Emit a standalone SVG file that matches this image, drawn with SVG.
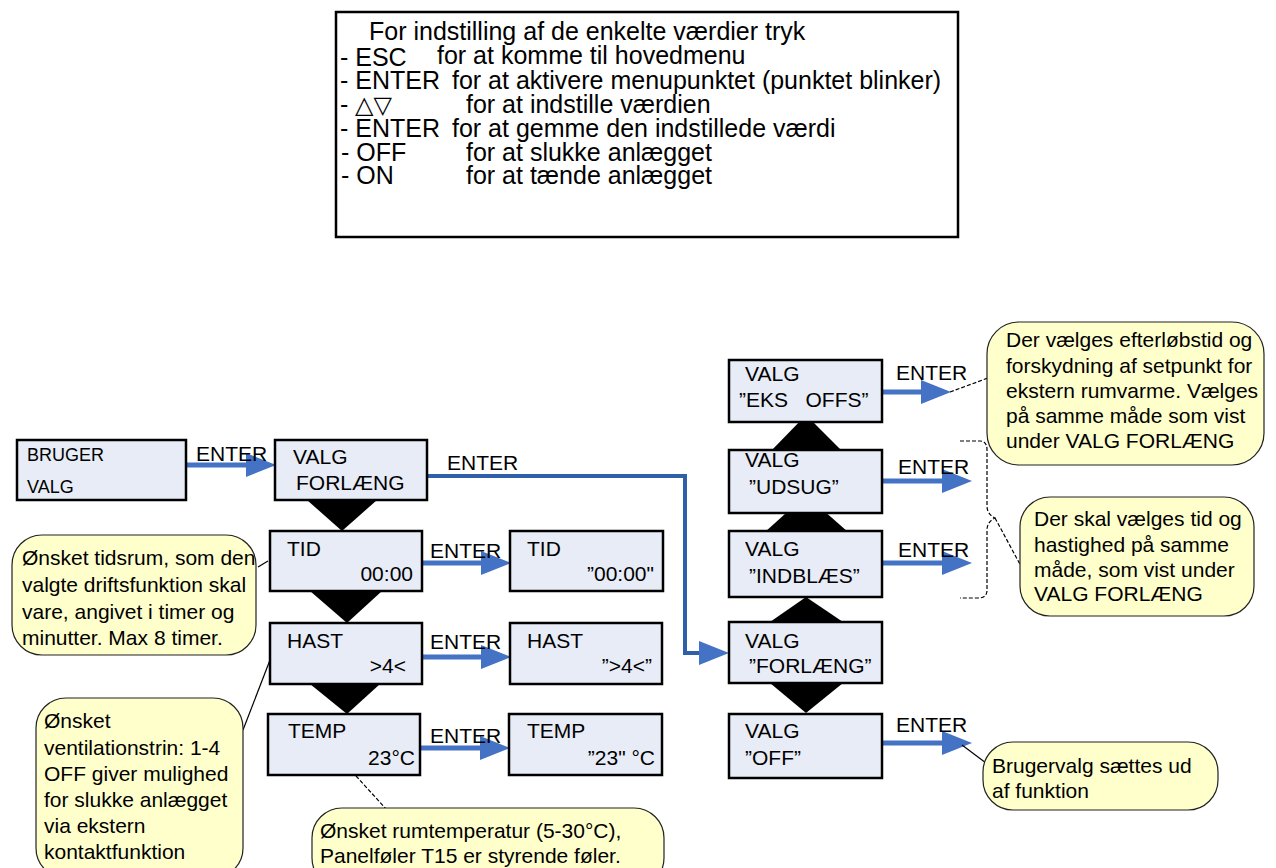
<svg xmlns="http://www.w3.org/2000/svg" width="1276" height="868" viewBox="0 0 1276 868">
<defs>
<style>
text{font-family:"Liberation Sans",Arial,sans-serif;fill:#000;}
.top{font-size:25px;}
.sym{font-family:"DejaVu Sans",sans-serif;font-size:24px;}
.t{font-size:21px;}
.s{font-size:18px;}
.node{fill:#E7ECF7;stroke:#000;stroke-width:2.5;}
.call{fill:#FFFFCC;stroke:#222;stroke-width:1.2;}
.arr{stroke:#4472C4;stroke-width:5;fill:none;marker-end:url(#ah);}
.lead{stroke:#000;stroke-width:1.2;fill:none;}
.dash{stroke:#000;stroke-width:1.2;fill:none;stroke-dasharray:4 2;}
.tri{fill:#000;}
</style>
<marker id="ah" markerUnits="userSpaceOnUse" markerWidth="32" markerHeight="26" refX="14" refY="12" orient="auto">
<path d="M0,0 L30,12 L0,24 Z" fill="#4472C4"/>
</marker>
</defs>
<rect width="1276" height="868" fill="#fff"/>

<g id="legend">
<rect x="336" y="12" width="622" height="225" fill="#fff" stroke="#000" stroke-width="2.5"/>
<text class="top" x="369" y="40">For indstilling af de enkelte værdier tryk</text>
<text class="top" x="340" y="66">- ESC</text><text class="top" x="437" y="64">for at komme til hovedmenu</text>
<text class="top" x="340" y="89">- ENTER</text><text class="top" x="452" y="89">for at aktivere menupunktet (punktet blinker)</text>
<text class="top" x="340" y="113">-</text><text class="sym" x="355" y="113">△▽</text><text class="top" x="466" y="113">for at indstille værdien</text>
<text class="top" x="340" y="137">- ENTER</text><text class="top" x="452" y="137">for at gemme den indstillede værdi</text>
<text class="top" x="341" y="161">- OFF</text><text class="top" x="466" y="161">for at slukke anlægget</text>
<text class="top" x="341" y="184">- ON</text><text class="top" x="466" y="184">for at tænde anlægget</text>
</g>

<g id="connectors">
<line class="arr" x1="186" y1="465" x2="260" y2="465"/>
<path d="M427,476 H685 V653 H713" stroke="#2E5FA8" stroke-width="4" fill="none" marker-end="url(#ah)"/>
<line class="arr" x1="422" y1="563" x2="495" y2="563"/>
<line class="arr" x1="422" y1="657" x2="495" y2="657"/>
<line class="arr" x1="420" y1="748" x2="494" y2="748"/>
<line class="arr" x1="882" y1="392" x2="935" y2="392"/>
<line class="arr" x1="882" y1="481" x2="956" y2="481"/>
<line class="arr" x1="882" y1="563" x2="956" y2="563"/>
<line class="arr" x1="882" y1="743" x2="956" y2="743"/>
<text class="t" x="196" y="461">ENTER</text>
<text class="t" x="447" y="470">ENTER</text>
<text class="t" x="430" y="558">ENTER</text>
<text class="t" x="430" y="649">ENTER</text>
<text class="t" x="430" y="743">ENTER</text>
<text class="t" x="896" y="380">ENTER</text>
<text class="t" x="898" y="474">ENTER</text>
<text class="t" x="898" y="557">ENTER</text>
<text class="t" x="896" y="732">ENTER</text>
<polygon class="tri" points="307,500 377,500 342,531"/>
<polygon class="tri" points="310,591 382,591 347,623"/>
<polygon class="tri" points="310,684 380,684 347,714"/>
<polygon class="tri" points="770,452 843,452 806,415"/>
<polygon class="tri" points="765,532 848,532 806,495"/>
<polygon class="tri" points="770,622 843,622 806,597"/>
<polygon class="tri" points="770,683 843,683 806,713"/>
</g>

<g id="n-bruger"><rect class="node" x="17" y="440" width="169" height="60"/><text class="s" x="27" y="461">BRUGER</text><text class="s" x="27" y="493">VALG</text></g>
<g id="n-forlaeng"><rect class="node" x="275" y="440" width="152" height="60"/><text class="t" x="293" y="464">VALG</text><text class="t" x="296" y="490">FORLÆNG</text></g>
<g id="n-tid"><rect class="node" x="270" y="531" width="152" height="60"/><text class="t" x="287" y="556">TID</text><text class="t" x="413" y="581" text-anchor="end">00:00</text></g>
<g id="n-hast"><rect class="node" x="270" y="623" width="152" height="61"/><text class="t" x="287" y="648">HAST</text><text class="t" x="406" y="673" text-anchor="end">&gt;4&lt;</text></g>
<g id="n-temp"><rect class="node" x="268" y="714" width="152" height="61"/><text class="t" x="288" y="738">TEMP</text><text class="t" x="415" y="765" text-anchor="end">23°C</text></g>
<g id="n-tid2"><rect class="node" x="510" y="531" width="153" height="60"/><text class="t" x="527" y="556">TID</text><text class="t" x="654" y="581" text-anchor="end">”00:00"</text></g>
<g id="n-hast2"><rect class="node" x="510" y="623" width="152" height="61"/><text class="t" x="527" y="648">HAST</text><text class="t" x="652" y="673" text-anchor="end">”&gt;4&lt;”</text></g>
<g id="n-temp2"><rect class="node" x="509" y="714" width="153" height="61"/><text class="t" x="527" y="738">TEMP</text><text class="t" x="655" y="765" text-anchor="end">”23" °C</text></g>

<g id="n-eks"><rect class="node" x="729" y="360" width="153" height="62"/><text class="t" x="745" y="381">VALG</text><text class="t" x="739" y="407" xml:space="preserve">”EKS   OFFS”</text></g>
<g id="n-udsug"><rect class="node" x="729" y="450" width="153" height="63"/><text class="t" x="745" y="467">VALG</text><text class="t" x="749" y="494">”UDSUG”</text></g>
<g id="n-indblaes"><rect class="node" x="729" y="531" width="153" height="66"/><text class="t" x="745" y="556">VALG</text><text class="t" x="749" y="583">”INDBLÆS”</text></g>
<g id="n-forlaeng2"><rect class="node" x="729" y="622" width="153" height="61"/><text class="t" x="745" y="648">VALG</text><text class="t" x="749" y="673">”FORLÆNG”</text></g>
<g id="n-off"><rect class="node" x="729" y="714" width="153" height="64"/><text class="t" x="745" y="738">VALG</text><text class="t" x="745" y="765">”OFF”</text></g>

<g id="c-tid">
<line class="lead" x1="258" y1="567" x2="268" y2="561"/>
<rect class="call" x="12" y="535" width="244" height="120" rx="30"/>
<text class="t" x="22" y="565">Ønsket tidsrum, som den</text>
<text class="t" x="22" y="592">valgte driftsfunktion skal</text>
<text class="t" x="22" y="619">vare, angivet i timer og</text>
<text class="t" x="22" y="645">minutter. Max 8 timer.</text>
</g>
<g id="c-hast">
<line class="lead" x1="243" y1="730" x2="270" y2="660"/>
<rect class="call" x="36" y="698" width="207" height="180" rx="30"/>
<text class="t" x="44" y="728">Ønsket</text>
<text class="t" x="44" y="755">ventilationstrin: 1-4</text>
<text class="t" x="44" y="781">OFF giver mulighed</text>
<text class="t" x="44" y="807">for slukke anlægget</text>
<text class="t" x="44" y="833">via ekstern</text>
<text class="t" x="44" y="859">kontaktfunktion</text>
</g>
<g id="c-temp">
<line class="dash" x1="356" y1="776" x2="387" y2="810"/>
<rect class="call" x="312" y="808" width="352" height="80" rx="30"/>
<text class="t" x="320" y="838">Ønsket rumtemperatur (5-30°C),</text>
<text class="t" x="320" y="863">Panelføler T15 er styrende føler.</text>
</g>
<g id="c-eks">
<line class="dash" x1="950" y1="392" x2="988" y2="378"/>
<rect class="call" x="987" y="322" width="277" height="143" rx="32"/>
<text class="t" x="1006" y="347">Der vælges efterløbstid og</text>
<text class="t" x="1006" y="373">forskydning af setpunkt for</text>
<text class="t" x="1006" y="398">ekstern rumvarme. Vælges</text>
<text class="t" x="1006" y="423">på samme måde som vist</text>
<text class="t" x="1006" y="448">under VALG FORLÆNG</text>
</g>
<g id="c-skal">
<path class="dash" d="M960,441 H980 Q987,441 987,450 V506 Q987,514 995,518 Q987,522 987,530 V590 Q987,598 978,598 H960"/>
<line class="dash" x1="995" y1="518" x2="1022" y2="568"/>
<rect class="call" x="1020" y="497" width="234" height="119" rx="30"/>
<text class="t" x="1034" y="526">Der skal vælges tid og</text>
<text class="t" x="1034" y="552">hastighed på samme</text>
<text class="t" x="1034" y="577">måde, som vist under</text>
<text class="t" x="1034" y="601">VALG FORLÆNG</text>
</g>
<g id="c-off">
<line class="lead" x1="962" y1="745" x2="986" y2="763"/>
<rect class="call" x="983" y="742" width="235" height="68" rx="30"/>
<text class="t" x="992" y="773">Brugervalg sættes ud</text>
<text class="t" x="992" y="798">af funktion</text>
</g>
</svg>
